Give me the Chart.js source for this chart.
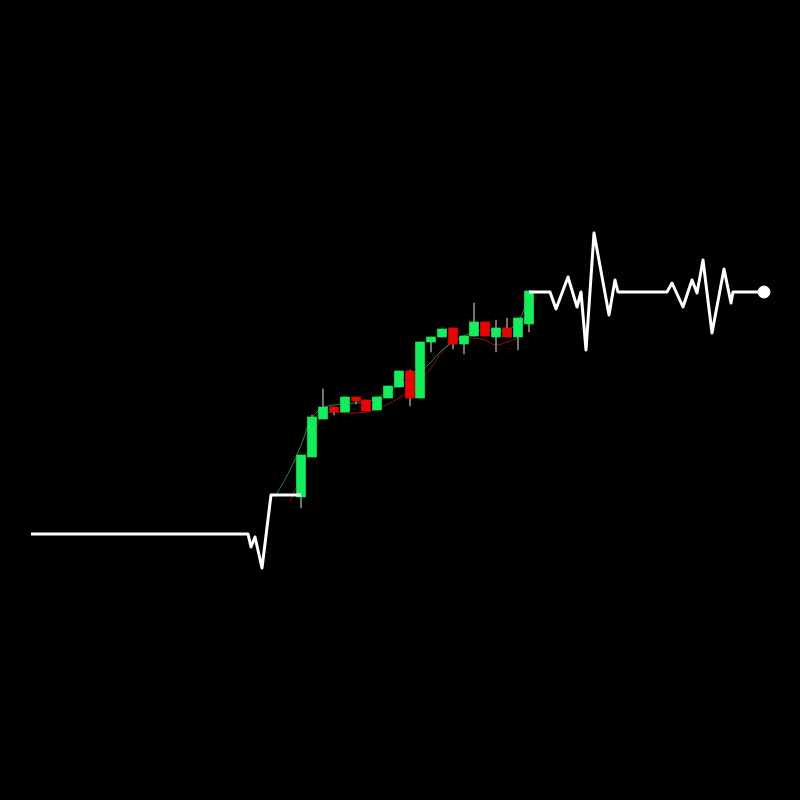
<!DOCTYPE html>
<html>
<head>
<meta charset="utf-8">
<title>Heartbeat candles</title>
<script src="https://cdn.jsdelivr.net/npm/chart.js@4/dist/chart.umd.min.js"></script>
<style>
  html, body { margin: 0; padding: 0; background: #000; }
  canvas { display: block; }
</style>
</head>
<body>
<canvas id="pulseChart" width="800" height="800"></canvas>
<script>
// candle times and OHLC values
const candleTimes = [301,312,323,334,345,356,366,377,388,399,410,420,431,442,453,464,474,485,496,507,518,529];
const opens  = [303,343,381,393,388,403,400,390,402,413,429,402,458,463,472,456,464,478,463,472,463,476];
const closes = [345,383,393,388,403,399,389,403,414,429,402,458,463,471,456,464,478,464,472,463,482,509];
const highs  = [345,385,411,393,403,403,400,403,414,429,430,458,463,471,472,464,497,478,480,482,482,509];
const lows   = [292,343,381,385,388,396,389,390,402,413,394,402,448,463,451,446,464,464,448,463,450,468];

// heartbeat line before and after the candles
const pulseInTimes  = [31,248,251,255,262,271,301];
const pulseInValues = [266,266,253,263,232,305,305];
const pulseOutTimes  = [529,550,556,568,577,581,586,594,609,615,618,667,672,683,692,697,703,712,724,731,733,764];
const pulseOutValues = [508,508,491,523,493,508,450,567,485,520,508,508,517,493,520,507,540,467,531,497,508,508];

// moving averages
const fastMaTimes  = [275,290,301,312,323,334,345,356,366,377,388,399,410,420,431,442,453,464,474,485,496,507,518,529];
const fastMaValues = [303,330,355,382,392,395,396,397,398,402,408,415,420,428,438,450,458,464,468,470,469,470,478,505];
const slowMaTimes  = [290,301,312,323,334,345,356,366,377,388,399,410,420,431,442,453,464,474,485,496,507,518];
const slowMaValues = [298,325,360,385,388,387,387,388,391,396,402,410,420,432,448,458,462,462,460,455,458,462];

const toPoints = (xs, ys) => xs.map((x, i) => ({ x: x, y: ys[i] }));

const GREEN = '#0ff05a';
const RED = '#f00000';

const ctx = document.getElementById('pulseChart');
new Chart(ctx, {
  type: 'bar',
  data: {
    datasets: [
      {
        type: 'line',
        data: toPoints(pulseInTimes, pulseInValues),
        borderColor: '#ffffff',
        borderWidth: 3,
        borderJoinStyle: 'round',
        pointRadius: 0,
        tension: 0,
        order: 1
      },
      {
        type: 'line',
        data: toPoints(pulseOutTimes, pulseOutValues),
        borderColor: '#ffffff',
        borderWidth: 3,
        borderJoinStyle: 'round',
        pointRadius: 0,
        tension: 0,
        order: 1
      },
      {
        type: 'scatter',
        data: [{ x: pulseOutTimes[pulseOutTimes.length - 1], y: pulseOutValues[pulseOutValues.length - 1] }],
        backgroundColor: '#ffffff',
        borderColor: '#ffffff',
        pointRadius: 6,
        order: 0
      },
      {
        type: 'line',
        data: toPoints(fastMaTimes, fastMaValues),
        borderColor: 'rgba(40,170,90,0.8)',
        borderWidth: 1,
        pointRadius: 0,
        tension: 0.4,
        order: 5
      },
      {
        type: 'line',
        data: toPoints(slowMaTimes, slowMaValues),
        borderColor: 'rgba(170,30,30,0.8)',
        borderWidth: 1,
        pointRadius: 0,
        tension: 0.4,
        order: 5
      },
      {
        label: 'wicks',
        data: candleTimes.map((t, i) => ({ x: t, y: [lows[i], highs[i]] })),
        backgroundColor: '#8a8a8a',
        barThickness: 1,
        grouped: false,
        order: 4
      },
      {
        label: 'bodies',
        data: candleTimes.map((t, i) => ({ x: t, y: [opens[i], closes[i]] })),
        backgroundColor: opens.map((o, i) => closes[i] >= o ? GREEN : RED),
        barThickness: 9,
        grouped: false,
        order: 3
      }
    ]
  },
  options: {
    responsive: false,
    animation: false,
    layout: { padding: 0, autoPadding: false },
    plugins: { legend: { display: false }, tooltip: { enabled: false } },
    scales: {
      x: { type: 'linear', min: 0, max: 800, offset: false, display: false },
      y: { type: 'linear', min: 0, max: 800, display: false }
    }
  }
});
</script>
</body>
</html>
